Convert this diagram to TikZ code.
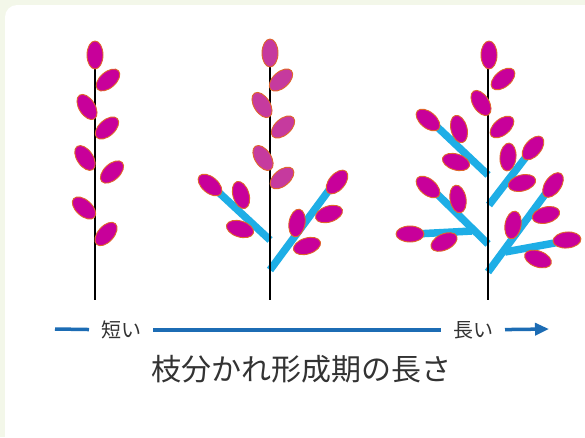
\documentclass[tikz,border=0pt]{standalone}
\usepackage{fontspec}
\newfontfamily\jpfont{Noto Sans CJK JP}
\usetikzlibrary{arrows.meta}

\definecolor{leafpink}{HTML}{C8009A}
\definecolor{leafpale}{HTML}{C63A9E}
\definecolor{leafrim}{HTML}{E0662A}
\definecolor{twigblue}{HTML}{1EAEE6}
\definecolor{axisblue}{HTML}{1C6CB4}
\definecolor{paper}{HTML}{F3F7E9}

\begin{document}
\begin{tikzpicture}[
    x=1pt, y=-1pt,
    font=\jpfont,
    leaf/.style={fill=leafpink, draw=leafrim, line width=0.9pt},
    paleleaf/.style={leaf, fill=leafpale},
    stem/.style={line width=1.8pt, black},
    twig/.style={line width=7.5pt, twigblue},
    axis/.style={line width=3.5pt, axisblue},
    label/.style={font=\jpfont\fontsize{20}{20}\selectfont, text=black!80, inner sep=0pt, outer sep=12pt},
    title/.style={font=\jpfont\fontsize{30}{30}\selectfont, text=black!80, inner sep=0pt}
]

\useasboundingbox (0,0) rectangle (585,437);

% Background with white card
\fill[paper] (0,0) rectangle (585,437);
\fill[white] (5,437) -- (5,17) arc[start angle=180, end angle=270, radius=12] -- (585,5) -- (585,437) -- cycle;

% Leaf size
\def\leafa{14}
\def\leafb{8}

% ===== Plant 1: short branching phase =====
\draw[stem] (95,62) -- (95,300);
\foreach \x/\y/\a in {95/55/90, 108/80/41, 87/107/122, 107/128/42,
                      85/158/124, 112/172/43, 84/208/138, 106/234/48}
    \path[leaf, rotate around={\a:(\x,\y)}] (\x,\y) ellipse [x radius=\leafa, y radius=\leafb];

% ===== Plant 2: medium branching phase =====
\draw[twig] (270,240) -- (214,188);
\draw[twig] (270,270) -- (332,186);
\draw[stem] (270,62) -- (270,300);
\foreach \x/\y/\a in {270/53/90, 281/80/42, 262/105/122, 283/127/42,
                      263/158/123, 282/178/40}
    \path[paleleaf, rotate around={\a:(\x,\y)}] (\x,\y) ellipse [x radius=\leafa, y radius=\leafb];
\foreach \x/\y/\a in {210/185/140, 241/195/107, 240/229/163,
                      337/182/50, 297/223/80, 329/214/18, 307/246/17}
    \path[leaf, rotate around={\a:(\x,\y)}] (\x,\y) ellipse [x radius=\leafa, y radius=\leafb];

% ===== Plant 3: long branching phase =====
\draw[twig] (488,175) -- (432,122);
\draw[twig] (489,205) -- (529,153);
\draw[twig] (488,244) -- (432,189);
\draw[twig] (472,231) -- (415,234);
\draw[twig] (488,272) -- (549,189);
\draw[twig] (505,252) -- (560,242);
\draw[stem] (488,62) -- (488,300);
\foreach \x/\y/\a in {489/55/90, 503/79/40, 481/103/122, 502/127/40,
                      428/120/140, 459/129/105, 456/162/163,
                      533/148/50, 508/157/85, 522/183/15,
                      428/187/140, 458/199/100, 410/234/0, 444/242/25,
                      553/185/55, 513/225/80, 546/215/15, 567/240/5, 538/259/-20}
    \path[leaf, rotate around={\a:(\x,\y)}] (\x,\y) ellipse [x radius=\leafa, y radius=\leafb];

% ===== Time axis =====
\coordinate (tail) at (55,329);
\coordinate (head) at (549,329);
\node[label] (short) at (121,330) {短い};
\node[label] (long) at (473,330) {長い};
\draw[axis] (tail) -- (short);
\draw[axis] (short) -- (long);
\draw[axis, -{Triangle[length=14pt, width=12pt]}] (long) -- (head);

\node[title] (phase) at (301,369) {枝分かれ形成期の長さ};

\end{tikzpicture}
\end{document}
